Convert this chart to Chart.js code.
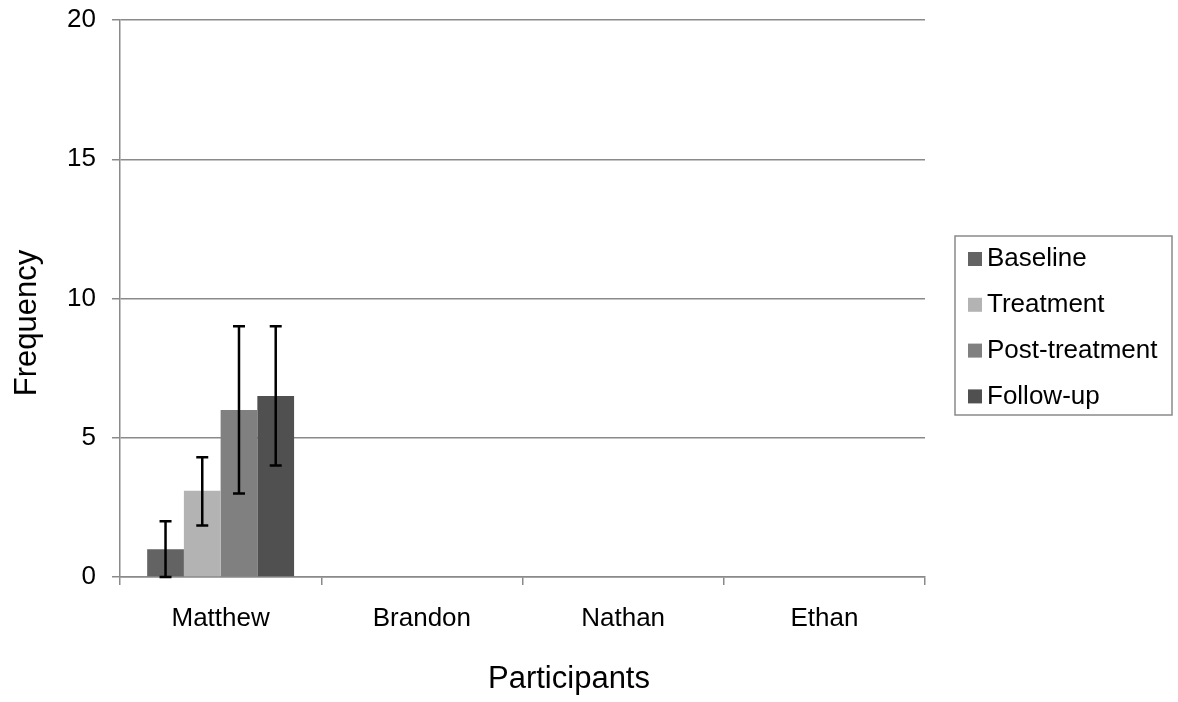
<!DOCTYPE html>
<html>
<head>
<meta charset="utf-8">
<script src="https://cdn.jsdelivr.net/npm/chart.js@4/dist/chart.umd.min.js"></script>
<style>
  html, body { margin: 0; padding: 0; background: #fff; }
  #wrap { width: 1178px; height: 702px; }
</style>
</head>
<body>
<div id="wrap"><canvas id="chart"></canvas></div>
<script>
const participants = ['Matthew', 'Brandon', 'Nathan', 'Ethan'];
const seriesNames = ['Baseline', 'Treatment', 'Post-treatment', 'Follow-up'];
const seriesColors = ['#636363', '#b3b3b3', '#808080', '#505050'];

// mean per phase (only Matthew has data)
const baseline = [1, null, null, null];
const treatment = [3.1, null, null, null];
const postTreatment = [6, null, null, null];
const followUp = [6.5, null, null, null];

// error bar ends
const errLow = [[0], [1.85], [3], [4]];
const errHigh = [[2], [4.3], [9], [9]];

const yTicks = [0, 5, 10, 15, 20];

const FONT = 'Liberation Sans, Arial, sans-serif';
const GRID = '#8a8a8a';

// draws error bars over each bar using the bar elements
const errorBars = {
  id: 'errorBars',
  afterDatasetsDraw(chart) {
    const ctx = chart.ctx;
    const y = chart.scales.y;
    ctx.save();
    ctx.strokeStyle = '#000';
    ctx.lineWidth = 2.5;
    chart.data.datasets.forEach((ds, i) => {
      const meta = chart.getDatasetMeta(i);
      meta.data.forEach((bar, j) => {
        if (ds.data[j] == null || errLow[i][j] == null) return;
        const x = bar.x;
        const y1 = y.getPixelForValue(errLow[i][j]);
        const y2 = y.getPixelForValue(errHigh[i][j]);
        ctx.beginPath();
        ctx.moveTo(x, y1); ctx.lineTo(x, y2);
        ctx.moveTo(x - 6, y1); ctx.lineTo(x + 6, y1);
        ctx.moveTo(x - 6, y2); ctx.lineTo(x + 6, y2);
        ctx.stroke();
      });
    });
    ctx.restore();
  }
};

// boxed legend on the right, plus the two axis titles (placed like the original)
const boxLegend = {
  id: 'boxLegend',
  afterDraw(chart) {
    const ctx = chart.ctx;
    const left = 955, top = 236, w = 217, h = 179;
    ctx.save();
    ctx.strokeStyle = GRID;
    ctx.lineWidth = 1.5;
    ctx.strokeRect(left, top, w, h);
    ctx.font = '26px ' + FONT;
    ctx.textBaseline = 'middle';
    chart.data.datasets.forEach((ds, i) => {
      const cy = top + 23 + i * 45.8;
      ctx.fillStyle = ds.backgroundColor;
      ctx.fillRect(left + 13, cy - 7, 14, 14);
      ctx.fillStyle = '#000';
      ctx.fillText(ds.label, left + 32, cy);
    });

    ctx.font = '31px ' + FONT;
    ctx.textAlign = 'center';
    ctx.fillText('Participants', 569, 679);
    ctx.translate(27, 323);
    ctx.rotate(-Math.PI / 2);
    ctx.fillText('Frequency', 0, 0);
    ctx.restore();
  }
};

const values = [baseline, treatment, postTreatment, followUp];

new Chart(document.getElementById('chart'), {
  type: 'bar',
  data: {
    labels: participants,
    datasets: seriesNames.map((name, i) => ({
      label: name,
      data: values[i],
      backgroundColor: seriesColors[i],
      borderWidth: 0,
      categoryPercentage: 0.73,
      barPercentage: 1
    }))
  },
  options: {
    responsive: true,
    maintainAspectRatio: false,
    animation: false,
    layout: { padding: { top: 20, right: 253, bottom: 5, left: 0 } },
    plugins: {
      legend: { display: false },
      tooltip: { enabled: false }
    },
    scales: {
      x: {
        grid: { offset: true, drawOnChartArea: false, drawTicks: true, tickLength: 8, color: GRID, lineWidth: 1.5 },
        border: { color: GRID, width: 1.5 },
        ticks: { color: '#000', font: { family: FONT, size: 26 }, padding: 18 },
        afterFit(scale) { scale.height = 120; scale.paddingLeft = 0; scale.paddingRight = 0; }
      },
      y: {
        min: 0, max: 20,
        afterBuildTicks(scale) { scale.ticks = yTicks.map(v => ({ value: v })); },
        grid: { color: GRID, lineWidth: 1.5, tickLength: 8 },
        border: { color: GRID, width: 1.5 },
        ticks: { color: '#000', font: { family: FONT, size: 26 }, padding: 16 },
        afterFit(scale) { scale.width = 120; scale.paddingTop = 0; scale.paddingBottom = 0; }
      }
    }
  },
  plugins: [errorBars, boxLegend]
});
</script>
</body>
</html>
